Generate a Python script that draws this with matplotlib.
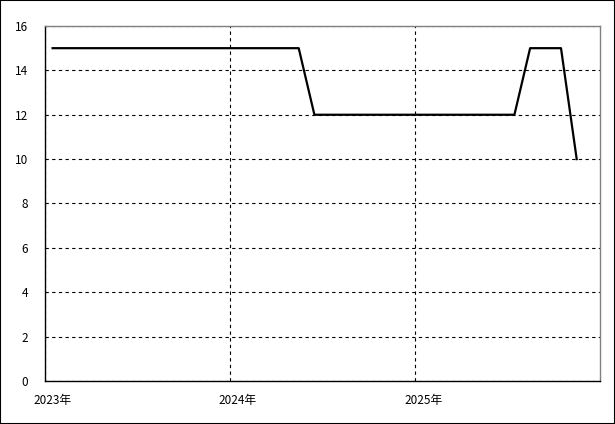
import matplotlib
matplotlib.use("Agg")
import matplotlib.pyplot as plt
import matplotlib.transforms as mtrans
import pandas as pd

plt.rcParams['font.family'] = ['Noto Sans CJK JP', 'DejaVu Sans']

# monthly points (mid-month)
months = ['2023-01', '2023-02', '2023-03', '2023-04', '2023-05', '2023-06',
          '2023-07', '2023-08', '2023-09', '2023-10', '2023-11', '2023-12',
          '2024-01', '2024-02', '2024-03', '2024-04', '2024-05', '2024-06',
          '2024-07', '2024-08', '2024-09', '2024-10', '2024-11', '2024-12',
          '2025-01', '2025-02', '2025-03', '2025-04', '2025-05', '2025-06',
          '2025-07', '2025-08', '2025-09', '2025-10', '2025-11']
values = [15, 15, 15, 15, 15, 15, 15, 15, 15, 15, 15, 15,
          15, 15, 15, 15, 15, 12, 12, 12, 12, 12, 12, 12,
          12, 12, 12, 12, 12, 12, 12, 15, 15, 15, 10]
year_ticks = ['2023-01-01', '2024-01-01', '2025-01-01']
year_labels = ['2023年', '2024年', '2025年']

dates = pd.to_datetime([m + '-16' for m in months])

fig = plt.figure(figsize=(6.15, 4.24), dpi=100)
fig.patches.append(plt.Rectangle((0, 0), 1, 1, transform=fig.transFigure,
                                 fill=False, edgecolor='black', linewidth=1.5))
ax = fig.add_axes([0.0732, 0.1014, 0.9024, 0.8373])

ax.plot(dates, values, color='black', linewidth=1.6, zorder=3)

ax.set_xlim(pd.Timestamp('2023-01-01'), pd.Timestamp('2026-01-01'))
ax.set_ylim(0, 16)
ax.set_yticks(range(0, 17, 2))
ax.set_xticks(pd.to_datetime(year_ticks))
ax.set_xticklabels(year_labels)

ax.grid(True, color='black', linestyle=(0, (3, 3)), linewidth=0.8)
ax.tick_params(length=0, labelsize=8.5, colors='black')
ax.tick_params(axis='y', pad=12)
ax.tick_params(axis='x', pad=9)

offset = mtrans.ScaledTranslation(8 / 100, 0, fig.dpi_scale_trans)
for lbl in ax.get_xticklabels():
    lbl.set_transform(lbl.get_transform() + offset)

for side in ['top', 'right']:
    ax.spines[side].set_color('#808080')
ax.spines['left'].set_color('black')
ax.spines['bottom'].set_color('black')
for s in ax.spines.values():
    s.set_linewidth(1)

fig.savefig('out.png', dpi=100)
